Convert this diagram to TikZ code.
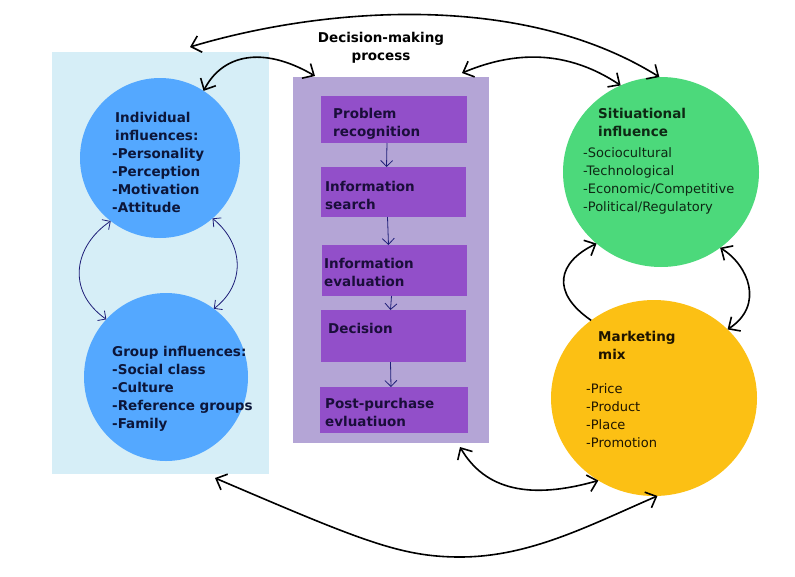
\documentclass[tikz,border=0pt]{standalone}
\usepackage{fontspec}
\setmainfont{DejaVu Sans}
\usetikzlibrary{arrows.meta,shapes.geometric,calc}
\definecolor{bgblue}{RGB}{214,238,247}
\definecolor{cblue}{RGB}{84,168,255}
\definecolor{bgpurple}{RGB}{180,165,214}
\definecolor{boxpurple}{RGB}{146,79,201}
\definecolor{cgreen}{RGB}{76,217,123}
\definecolor{cyellow}{RGB}{252,192,20}
\definecolor{navytxt}{RGB}{12,22,58}
\definecolor{purtxt}{RGB}{26,14,58}
\definecolor{grntxt}{RGB}{14,40,20}
\definecolor{ylwtxt}{RGB}{30,20,0}
\definecolor{thinline}{RGB}{30,30,120}
\begin{document}
\begin{tikzpicture}[x=1pt,y=-1pt,
  panel/.style={draw=none,inner sep=0pt,outer sep=0pt},
  bubble/.style={ellipse,draw=none,inner sep=0pt,outer sep=0pt},
  stepbox/.style={panel,fill=boxpurple},
  btxt/.style={anchor=north west,inner sep=0pt,align=left,font=\fontsize{13.5}{18}\selectfont\bfseries},
  ntxt/.style={anchor=north west,inner sep=0pt,align=left,font=\fontsize{13}{18}\selectfont},
  blk/.style={line width=1.6pt,black,{Straight Barb[length=9pt,width=17pt]}-{Straight Barb[length=9pt,width=17pt]}},
  blkone/.style={line width=1.6pt,black,-{Straight Barb[length=9pt,width=17pt]}},
  thn/.style={line width=0.8pt,thinline,{Straight Barb[length=6pt,width=12pt]}-{Straight Barb[length=6pt,width=12pt]}},
  thnone/.style={line width=0.8pt,thinline,-{Straight Barb[length=6pt,width=12pt]}}]
\useasboundingbox (0,0) rectangle (795,576);
\fill[white] (0,0) rectangle (795,576);

% panels
\node[panel,fill=bgblue,minimum width=217pt,minimum height=422pt] (bluebg) at (160.5,263) {};
\node[panel,fill=bgpurple,minimum width=196pt,minimum height=366pt] (purp) at (391,260) {};

% circles
\node[bubble,fill=cblue,minimum width=160pt,minimum height=160pt] (ind) at (160,158) {};
\node[bubble,fill=cblue,minimum width=164pt,minimum height=168pt] (grp) at (166,377) {};
\node[bubble,fill=cgreen,minimum width=196pt,minimum height=190pt] (grn) at (661,172) {};
\node[bubble,fill=cyellow,minimum width=206pt,minimum height=196pt] (ylw) at (654,398) {};

% step boxes
\node[stepbox,minimum width=146pt,minimum height=47pt] (b1) at (394,119.5) {};
\node[stepbox,minimum width=145pt,minimum height=50pt] (b2) at (393.5,192) {};
\node[stepbox,minimum width=145pt,minimum height=51pt] (b3) at (394.5,270.5) {};
\node[stepbox,minimum width=145pt,minimum height=52pt] (b4) at (393.5,336) {};
\node[stepbox,minimum width=148pt,minimum height=46pt] (b5) at (394,410) {};

% texts
\node[btxt,text=navytxt] (tind) at (112,111.6) {\hspace{3pt}Individual\\\hspace{3pt}influences:\\-Personality\\-Perception\\-Motivation\\-Attitude};
\node[btxt,text=navytxt] (tgrp) at (112,345.6) {Group influences:\\-Social class\\-Culture\\-Reference groups\\-Family};
\node[btxt,anchor=north,align=center,text=black] (title) at (381,31.6) {Decision-making\\process};
\node[btxt,text=purtxt] (t1) at (333,107.6) {Problem\\recognition};
\node[btxt,text=purtxt] (t2) at (325,180.6) {Information\\search};
\node[btxt,text=purtxt] (t3) at (324,257.6) {Information\\evaluation};
\node[btxt,text=purtxt] (t4) at (328,322.6) {Decision};
\node[btxt,text=purtxt] (t5) at (325,397.6) {Post-purchase\\evluatiuon};
\node[btxt,text=grntxt] (tgrnh) at (598,107.6) {Sitiuational\\influence};
\node[ntxt,text=grntxt] (tgrn) at (583,147.6) {-Sociocultural\\-Technological\\-Economic/Competitive\\-Political/Regulatory};
\node[btxt,text=ylwtxt] (tylwh) at (598,330.6) {Marketing\\mix};
\node[ntxt,text=ylwtxt] (tylw) at (586,383.6) {-Price\\-Product\\-Place\\-Promotion};

% free ends
\coordinate (ctop) at (190,47);
\coordinate (cptl) at (315,76);
\coordinate (cptr) at (462,73);
\coordinate (cpbr) at (460,447);
\coordinate (cbbot) at (215,478);

% thin arrows in process
\draw[thnone] ([xshift=-7pt]b1.south) -- ([xshift=-7pt]b2.north);
\draw[thnone] ([xshift=-6pt]b2.south) -- ([xshift=-6pt]b3.north);
\draw[thnone] ([xshift=-3pt]b3.south) -- ([xshift=-3pt]b4.north);
\draw[thnone] ([xshift=-3pt]b4.south) -- ([xshift=-3pt]b5.north);

% thin arrows between blue circles
\draw[thn] (ind.232) .. controls (75,245) and (65,290) .. (grp.136);
\draw[thn] (ind.311) .. controls (245,245) and (245,285) .. (grp.55);

% black connectors
\draw[blk] (ctop) .. controls (320,8) and (520,-10) .. (grn.91);
\draw[blk] (ind.57) .. controls (222,55) and (262,45) .. (cptl);
\draw[blk] (cptr) .. controls (505,55) and (560,45) .. (grn.115);
\draw[blkone] (ylw.129) .. controls (550,292) and (558,262) .. (grn.228);
\draw[blk] (grn.308) .. controls (748,265) and (765,305) .. (ylw.43);
\draw[blk] (cpbr) .. controls (485,490) and (530,500) .. (ylw.236);
\draw[blk] (cbbot) .. controls (360,540) and (400,557) .. (460,557) .. controls (530,557) and (590,525) .. (ylw.272);
\end{tikzpicture}
\end{document}
